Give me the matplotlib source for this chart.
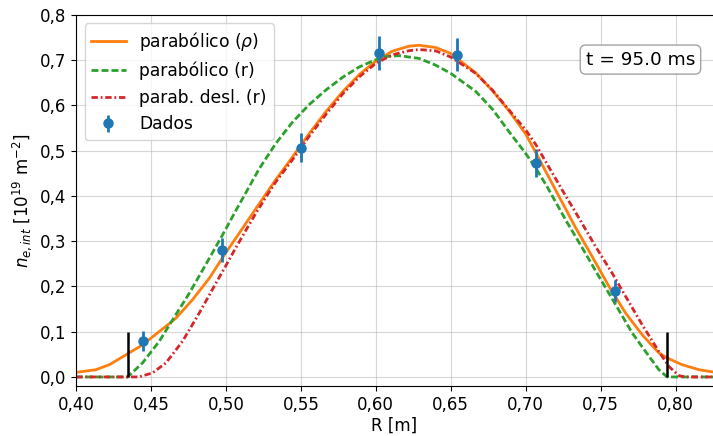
import numpy as np
import matplotlib
matplotlib.use("Agg")
import matplotlib.pyplot as plt
from matplotlib.ticker import FuncFormatter

# values
# parabolico (rho) fit
rhoR = [0.400, 0.4133, 0.4222, 0.4344, 0.4444, 0.4600, 0.4667, 0.4778, 0.4889, 0.5000,
        0.5067, 0.5200, 0.5333, 0.5444, 0.5500, 0.5556, 0.5667, 0.5778, 0.5889, 0.6000,
        0.6111, 0.6222, 0.6289, 0.6400, 0.6500, 0.6667, 0.6778, 0.6889, 0.7000, 0.7067,
        0.7200, 0.7333, 0.7444, 0.7556, 0.7667, 0.7778, 0.7889, 0.7944, 0.8044, 0.8156, 0.825]
rhoN = [0.010, 0.016, 0.027, 0.051, 0.071, 0.112, 0.130, 0.171, 0.218, 0.275,
        0.307, 0.372, 0.436, 0.486, 0.512, 0.538, 0.586, 0.630, 0.668, 0.698,
        0.720, 0.731, 0.733, 0.728, 0.715, 0.672, 0.633, 0.588, 0.537, 0.496,
        0.413, 0.330, 0.266, 0.200, 0.141, 0.093, 0.053, 0.042, 0.027, 0.016, 0.011]

# parabolico (r) fit
parR = [0.400, 0.4344, 0.4444, 0.4556, 0.4644, 0.4756, 0.4889, 0.4978, 0.5067, 0.5133,
        0.5222, 0.5333, 0.5444, 0.5556, 0.5667, 0.5778, 0.5889, 0.6000, 0.6067, 0.6156,
        0.6289, 0.6400, 0.6500, 0.6667, 0.6778, 0.6889, 0.7000, 0.7067, 0.7144, 0.7267,
        0.7378, 0.7489, 0.7600, 0.7711, 0.7822, 0.7889, 0.7944, 0.825]
parN = [0.000, 0.000, 0.031, 0.079, 0.126, 0.185, 0.262, 0.314, 0.368, 0.407,
        0.460, 0.516, 0.563, 0.602, 0.634, 0.662, 0.685, 0.701, 0.708, 0.710,
        0.704, 0.689, 0.671, 0.631, 0.592, 0.542, 0.494, 0.462, 0.420, 0.347,
        0.285, 0.222, 0.160, 0.097, 0.046, 0.016, 0.000, 0.000]

# parab. deslocado (r) fit
deslR = [0.400, 0.4420, 0.4511, 0.4600, 0.4711, 0.4822, 0.4933, 0.5000, 0.5067, 0.5200,
         0.5278, 0.5333, 0.5444, 0.5500, 0.5556, 0.5667, 0.5778, 0.5889, 0.6000, 0.6111,
         0.6222, 0.6289, 0.6400, 0.6500, 0.6667, 0.6778, 0.6889, 0.7000, 0.7067, 0.7244,
         0.7356, 0.7467, 0.7578, 0.7667, 0.7778, 0.7889, 0.7956, 0.8022, 0.8060, 0.825]
deslN = [0.000, 0.000, 0.009, 0.031, 0.079, 0.141, 0.207, 0.246, 0.286, 0.362,
         0.403, 0.431, 0.480, 0.506, 0.532, 0.580, 0.625, 0.663, 0.693, 0.712,
         0.721, 0.7236, 0.7206, 0.707, 0.671, 0.634, 0.590, 0.546, 0.514, 0.413,
         0.351, 0.288, 0.229, 0.178, 0.115, 0.056, 0.023, 0.003, 0.000, 0.000]

# measured chords
dadosR = [0.4449, 0.4973, 0.5498, 0.6022, 0.6545, 0.7071, 0.7595]
dadosN = [0.080, 0.280, 0.507, 0.715, 0.7125, 0.473, 0.190]
dadosErr = [0.022, 0.026, 0.032, 0.0375, 0.037, 0.031, 0.025]

# plasma edges
bordas = [0.4347, 0.7942]
tempo = 95.0

fig = plt.figure(figsize=(7.13, 4.36), dpi=100)
ax = fig.add_axes([0.1066, 0.1147, 0.8934, 0.851])

ax.plot(rhoR, rhoN, color="C1", lw=2, label=r"parabólico ($\rho$)")
ax.plot(parR, parN, color="C2", lw=2, dashes=(2.5, 1.1), label="parabólico (r)")
ax.plot(deslR, deslN, color="C3", lw=2, dashes=(2.3, 1, 0.65, 1), label="parab. desl. (r)")
ax.vlines(bordas, 0, 0.1, color="k", lw=1.8, zorder=3)
ax.errorbar(dadosR, dadosN, yerr=dadosErr, fmt="o", color="C0", ms=6.5,
            elinewidth=2, zorder=4, label="Dados")

ax.set_xlim(0.40, 0.825)
ax.set_ylim(-0.02, 0.8)
ax.set_xticks(np.arange(0.40, 0.81, 0.05))
ax.set_yticks(np.arange(0.0, 0.81, 0.1))
ax.xaxis.set_major_formatter(FuncFormatter(lambda v, p: ("%.2f" % v).replace(".", ",")))
ax.yaxis.set_major_formatter(FuncFormatter(lambda v, p: ("%.1f" % v).replace(".", ",")))
ax.tick_params(labelsize=12)
ax.grid(True, alpha=0.5)
ax.spines["right"].set_visible(False)

ax.set_xlabel("R [m]", fontsize=12, labelpad=2)
ax.set_ylabel(r"$n_{e,int}$ [10$^{19}$ m$^{-2}$]", fontsize=12)

ax.legend(loc="upper left", fontsize=12.3)
ax.text(0.972, 0.904, "t = %.1f ms" % tempo, transform=ax.transAxes, fontsize=13.3,
        ha="right", va="top",
        bbox=dict(boxstyle="round", facecolor="white", edgecolor="0.6", alpha=0.9))

fig.savefig("out.png", dpi=100)
